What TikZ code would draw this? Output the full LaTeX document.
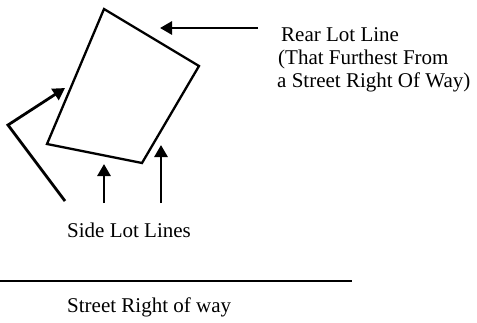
\documentclass[tikz,border=0pt]{standalone}
\usepackage{fontspec}
\setmainfont{Liberation Serif}
\usetikzlibrary{arrows.meta}
\tikzset{
  lotline/.style={line width=2.3pt, line join=miter},
  pointer/.style={line width=2.8pt, -{Triangle[length=12pt,width=13pt]}},
  lbl/.style={inner sep=0pt, anchor=base west, font=\fontsize{21}{23.5}\selectfont},
}
\begin{document}
\begin{tikzpicture}[x=1pt,y=-1pt]
\useasboundingbox (0,0) rectangle (477,322);
% lot corners
\coordinate (ct) at (104,9);
\coordinate (cr) at (199,66);
\coordinate (cb) at (142,163);
\coordinate (cl) at (47,144);
\draw[lotline] (ct) -- (cr) -- (cb) -- (cl) -- cycle;
% rear pointer
\coordinate (rs) at (258,28);
\coordinate (re) at (160,28);
\draw[pointer] (rs) -- (re);
\node[lbl] (rear1) at (281,41) {Rear Lot Line};
\node[lbl] (rear2) at (278,64) {(That Furthest From};
\node[lbl] (rear3) at (277,87) {a Street Right Of Way)};
% side pointers
\coordinate (s1s) at (65,201);
\coordinate (s1k) at (8,125);
\coordinate (s1e) at (65,88);
\draw[pointer, line join=miter] (s1s) -- (s1k) -- (s1e);
\coordinate (s2s) at (104,203);
\coordinate (s2e) at (104,164);
\draw[pointer] (s2s) -- (s2e);
\coordinate (s3s) at (161,203);
\coordinate (s3e) at (161,145);
\draw[pointer] (s3s) -- (s3e);
\node[lbl] (side) at (67,237) {Side Lot Lines};
% street
\coordinate (stl) at (0,281);
\coordinate (str) at (352,281);
\draw[line width=2.5pt] (stl) -- (str);
\node[lbl] (street) at (67,312) {Street Right of way};
\end{tikzpicture}
\end{document}
